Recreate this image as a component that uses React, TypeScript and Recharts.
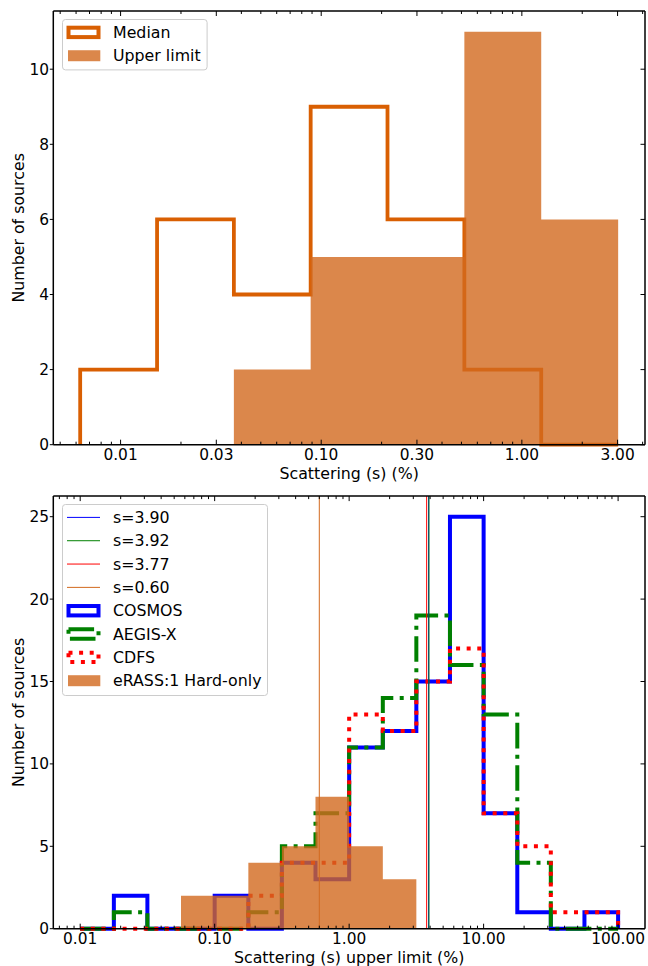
import React from 'react';
import { ComposedChart, Area, XAxis, YAxis, ReferenceLine, Legend, Label } from 'recharts';

// ---------- top panel: scattering fraction ----------
const topEdges = [0.00629, 0.0152, 0.0367, 0.0886, 0.214, 0.517, 1.249, 3.02];
const medianCounts = [2, 6, 4, 9, 6, 2, 0];
const upperEdges = [0.0367, 0.0886, 0.214, 0.517, 1.249, 3.02];
const upperCounts = [2, 5, 5, 11, 6];
const topXTicks = [0.01, 0.03, 0.1, 0.3, 1, 3];
const topXLabels = ['0.01', '0.03', '0.10', '0.30', '1.00', '3.00'];
const topYTicks = [0, 2, 4, 6, 8, 10];

// ---------- bottom panel: upper limits per survey ----------
const botEdges = [0.01, 0.0178, 0.0316, 0.0562, 0.1, 0.178, 0.316, 0.562, 1, 1.78, 3.16, 5.62, 10, 17.8, 31.6, 56.2, 100];
const cosmosCounts = [0, 2, 0, 0, 2, 0, 4, 3, 11, 12, 15, 25, 7, 1, 0, 1];
const aegisCounts = [0, 1, 0, 0, 0, 1, 5, 7, 11, 14, 19, 16, 13, 4, 0, 0];
const cdfsCounts = [0, 0, 0, 0, 0, 2, 4, 4, 13, 12, 15, 17, 7, 5, 1, 1];
const erassEdges = [0.0562, 0.1, 0.178, 0.316, 0.562, 1, 1.78, 3.16];
const erassCounts = [2, 2, 4, 5, 8, 5, 3];
const sValues = [3.9, 3.92, 3.77, 0.6];
const sLabels = ['s=3.90', 's=3.92', 's=3.77', 's=0.60'];
const botXTicks = [0.01, 0.1, 1, 10, 100];
const botXLabels = ['0.01', '0.10', '1.00', '10.00', '100.00'];
const botYTicks = [0, 5, 10, 15, 20, 25];

const BLUE = '#0000ff';
const GREEN = '#008000';
const RED = '#ff0000';
const FILL = '#d2691e';
const MEDIAN = '#d95f02';
const sColors = [BLUE, GREEN, RED, FILL];

const FONT = '"DejaVu Sans", sans-serif';
const FS = 15.4;
const FS_TEXT = 15.8;
const AEGIS_DASH = '25.6 6.4 4 6.4';
const CDFS_DASH = '4 6.6';

// outline of a step histogram, like histtype='step'
const stepPoints = (edges: number[], counts: number[]) => {
  const pts = [{ x: edges[0], y: 0 }];
  counts.forEach((c, i) => pts.push({ x: edges[i], y: c }));
  pts.push({ x: edges[edges.length - 1], y: 0 });
  return pts;
};
// filled bars as one stepped area
const barPoints = (edges: number[], counts: number[]) => {
  const pts = counts.map((c, i) => ({ x: edges[i], y: c }));
  pts.push({ x: edges[edges.length - 1], y: counts[counts.length - 1] });
  return pts;
};

const minorTicks = (lo: number, hi: number, majors: number[]) => {
  const out: number[] = [];
  for (let k = -4; k <= 3; k++) {
    for (let m = 2; m <= 9; m++) {
      const v = m * Math.pow(10, k);
      if (v >= lo && v <= hi && !majors.some((s) => Math.abs(s - v) < v * 1e-6)) out.push(v);
    }
  }
  return out;
};

const XTick = (props: any) => {
  const { x, y, payload, majors, labels, top } = props;
  const i = majors.findIndex((m: number) => Math.abs(m - payload.value) < m * 1e-6);
  const len = i >= 0 ? 5 : 3;
  const dir = top ? 1 : -1;
  return (
    <g>
      <line x1={x} x2={x} y1={y} y2={y + dir * len} stroke="#000" strokeWidth={1} />
      {!top && i >= 0 && (
        <text x={x} y={y + 15.3} textAnchor="middle" fontFamily={FONT} fontSize={FS} fill="#000">
          {labels[i]}
        </text>
      )}
    </g>
  );
};

const YTick = (props: any) => {
  const { x, y, payload, right } = props;
  if (right) return <line x1={x} x2={x - 4.5} y1={y} y2={y} stroke="#000" strokeWidth={1} />;
  return (
    <g>
      <line x1={x} x2={x - 3.5} y1={y} y2={y} stroke="#000" strokeWidth={1} />
      <text x={x - 4.3} y={y} dy="0.36em" textAnchor="end" fontFamily={FONT} fontSize={FS} fill="#000">
        {payload.value}
      </text>
    </g>
  );
};

const xLabel = (text: string) => (p: any) => {
  const vb = p.viewBox || {};
  return (
    <text x={vb.x + vb.width / 2} y={vb.y + 34.3} textAnchor="middle" fontFamily={FONT} fontSize={FS_TEXT} fill="#000">
      {text}
    </text>
  );
};

const yLabel = (text: string) => (p: any) => {
  const vb = p.viewBox || {};
  const cx = 24.5;
  const cy = vb.y + vb.height / 2;
  return (
    <text x={cx} y={cy} transform={`rotate(-90, ${cx}, ${cy})`} textAnchor="middle" fontFamily={FONT} fontSize={FS_TEXT} fill="#000">
      {text}
    </text>
  );
};

type Item = { kind: 'line' | 'outline' | 'fill'; color: string; label: string; dash?: string };

const LegendBox = ({ width, height, items }: { width: number; height: number; items: Item[] }) => (
  <svg width={width} height={height} style={{ display: 'block', overflow: 'visible' }}>
    <rect x={0.5} y={0.5} width={width - 1} height={height - 1} rx={3} fill="#fff" fillOpacity={0.8} stroke="#cccccc" />
    {items.map((it, i) => {
      const cy = 13.4 + 23.33 * i;
      return (
        <g key={it.label}>
          {it.kind === 'line' && <line x1={5} x2={38} y1={cy} y2={cy} stroke={it.color} strokeWidth={1} />}
          {it.kind === 'outline' && (
            <rect x={6.5} y={cy - 4.7} width={30} height={9.4} fill="none" stroke={it.color} strokeWidth={4} strokeDasharray={it.dash} />
          )}
          {it.kind === 'fill' && <rect x={6} y={cy - 5.5} width={32.3} height={11} fill={FILL} fillOpacity={0.8} />}
          <text x={51} y={cy + 5.6} fontFamily={FONT} fontSize={FS_TEXT} fill="#000">
            {it.label}
          </text>
        </g>
      );
    })}
  </svg>
);

const topItems: Item[] = [
  { kind: 'outline', color: MEDIAN, label: 'Median' },
  { kind: 'fill', color: FILL, label: 'Upper limit' },
];

const botItems: Item[] = [
  ...sLabels.map((l, i) => ({ kind: 'line' as const, color: sColors[i], label: l })),
  { kind: 'outline', color: BLUE, label: 'COSMOS' },
  { kind: 'outline', color: GREEN, label: 'AEGIS-X', dash: AEGIS_DASH },
  { kind: 'outline', color: RED, label: 'CDFS', dash: CDFS_DASH },
  { kind: 'fill', color: FILL, label: 'eRASS:1 Hard-only' },
];

const frame = { stroke: '#000', strokeWidth: 1.5 };

// the four sides of the box: bottom/left carry labels, top/right only ticks
const Frame = ({ domain, ticks, majors, labels, yDomain, yTicks, xTitle, xHeight }: any) => [
  <XAxis key="xb" dataKey="x" type="number" scale="log" domain={domain} allowDataOverflow ticks={ticks} interval={0}
    tickSize={0} tickMargin={0} height={xHeight} axisLine={frame} tickLine={false}
    tick={<XTick majors={majors} labels={labels} />}>
    <Label content={xLabel(xTitle)} />
  </XAxis>,
  <XAxis key="xt" xAxisId="top" orientation="top" dataKey="x" type="number" scale="log" domain={domain} allowDataOverflow
    ticks={ticks} interval={0} tickSize={0} tickMargin={0} height={1} axisLine={frame} tickLine={false}
    tick={<XTick majors={majors} labels={labels} top />} />,
  <YAxis key="yl" type="number" domain={yDomain} ticks={yTicks} interval={0} width={53.3} tickSize={0} tickMargin={0}
    axisLine={frame} tickLine={false} tick={<YTick />}>
    <Label content={yLabel('Number of sources')} />
  </YAxis>,
  <YAxis key="yr" yAxisId="right" orientation="right" type="number" domain={yDomain} ticks={yTicks} interval={0}
    width={1} tickSize={0} tickMargin={0} axisLine={frame} tickLine={false} tick={<YTick right />} />,
];

function TopPanel() {
  const domain: [number, number] = [0.00462, 4.11];
  const ticks = [...topXTicks, ...minorTicks(domain[0], domain[1], topXTicks)];
  return (
    <ComposedChart width={648} height={486} margin={{ top: 10, right: 2, bottom: 0, left: 0 }}>
      {Frame({ domain, ticks, majors: topXTicks, labels: topXLabels, yDomain: [0, 11.55], yTicks: topYTicks,
        xTitle: 'Scattering (s) (%)', xHeight: 41.3 })}
      <Area data={stepPoints(topEdges, medianCounts)} dataKey="y" type="stepAfter" stroke={MEDIAN} strokeWidth={3.8}
        fill="none" dot={false} activeDot={false} isAnimationActive={false} />
      <Area data={barPoints(upperEdges, upperCounts)} dataKey="y" type="stepAfter" stroke="none" fill={FILL}
        fillOpacity={0.8} xAxisId="top" yAxisId="right" dot={false} activeDot={false} isAnimationActive={false} />
      <Legend layout="vertical" align="center" verticalAlign="middle"
        wrapperStyle={{ left: 61.7, top: 19.3, width: 146, height: 52 }}
        content={() => <LegendBox width={145.6} height={51.4} items={topItems} />} />
    </ComposedChart>
  );
}

function BottomPanel() {
  const domain: [number, number] = [0.00631, 158.5];
  const ticks = [...botXTicks, ...minorTicks(domain[0], domain[1], botXTicks)];
  return (
    <ComposedChart width={648} height={480} margin={{ top: 9.1, right: 2, bottom: 0, left: 0 }}>
      {Frame({ domain, ticks, majors: botXTicks, labels: botXLabels, yDomain: [0, 26.25], yTicks: botYTicks,
        xTitle: 'Scattering (s) upper limit (%)', xHeight: 37.3 })}
      <Area data={stepPoints(botEdges, cosmosCounts)} dataKey="y" type="stepAfter" stroke={BLUE} strokeWidth={4}
        fill="none" dot={false} activeDot={false} isAnimationActive={false} />
      <Area data={stepPoints(botEdges, aegisCounts)} dataKey="y" type="stepAfter" stroke={GREEN} strokeWidth={4}
        strokeDasharray={AEGIS_DASH} fill="none" dot={false} activeDot={false} isAnimationActive={false} />
      <Area data={stepPoints(botEdges, cdfsCounts)} dataKey="y" type="stepAfter" stroke={RED} strokeWidth={4}
        strokeDasharray={CDFS_DASH} fill="none" dot={false} activeDot={false} isAnimationActive={false} />
      <Area data={barPoints(erassEdges, erassCounts)} dataKey="y" type="stepAfter" stroke="none" fill={FILL}
        fillOpacity={0.8} xAxisId="top" yAxisId="right" dot={false} activeDot={false} isAnimationActive={false} />
      {sValues.map((s, i) => (
        <ReferenceLine key={sLabels[i]} x={s} stroke={sColors[i]} strokeWidth={1} />
      ))}
      <Legend layout="vertical" align="center" verticalAlign="middle"
        wrapperStyle={{ left: 62, top: 18, width: 206, height: 192 }}
        content={() => <LegendBox width={206} height={192} items={botItems} />} />
    </ComposedChart>
  );
}

export default function App() {
  return (
    <div style={{ position: 'absolute', left: 0, top: 0, width: 648, height: 966, background: '#fff' }}>
      <div style={{ position: 'absolute', left: 0, top: 0 }}>
        <TopPanel />
      </div>
      <div style={{ position: 'absolute', left: 0, top: 486 }}>
        <BottomPanel />
      </div>
    </div>
  );
}
